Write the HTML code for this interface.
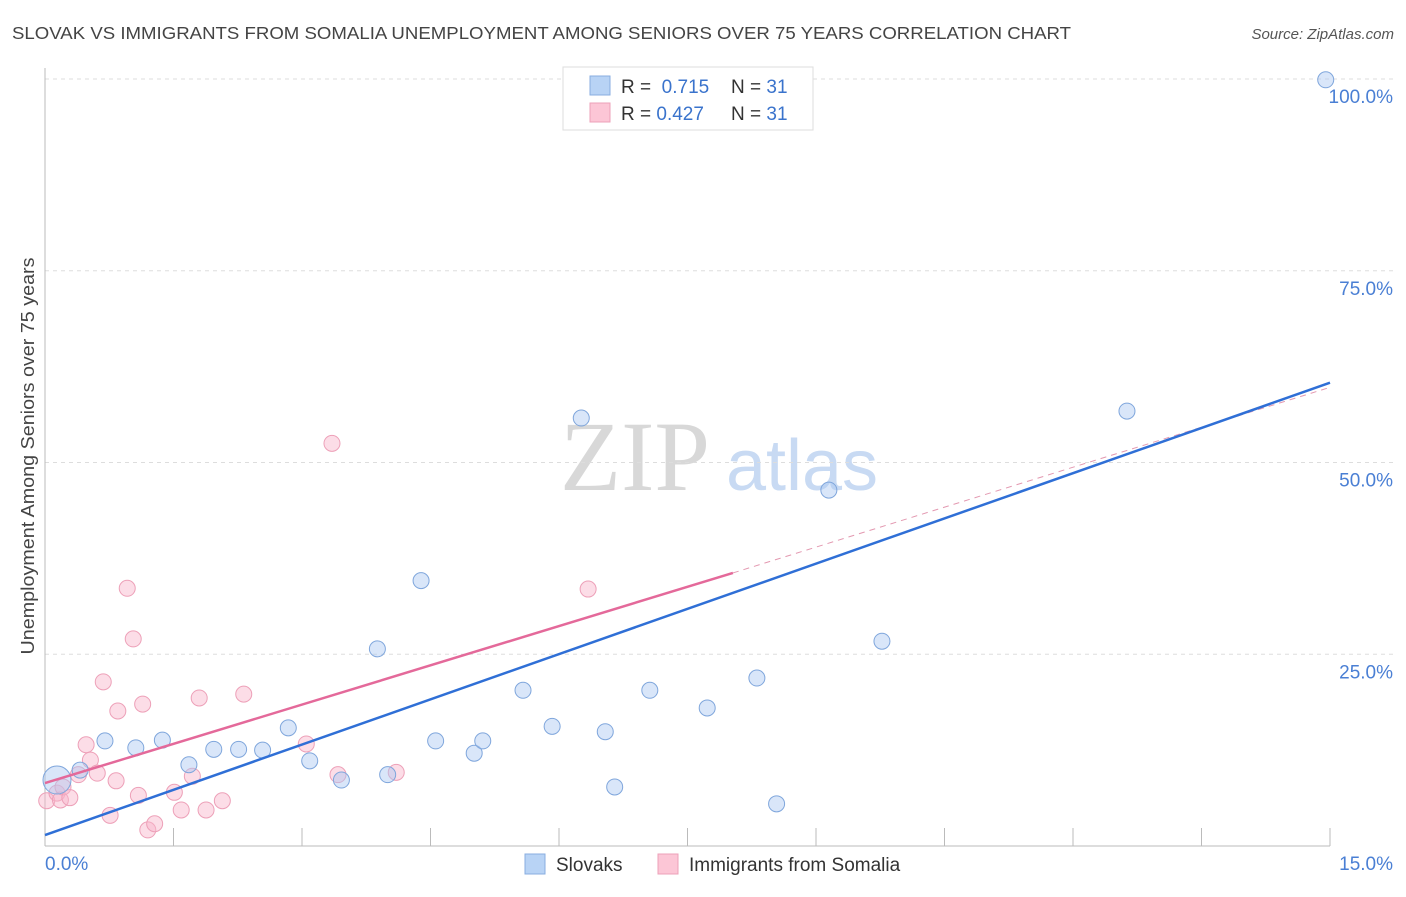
<!DOCTYPE html>
<html><head><meta charset="utf-8"><style>
body{margin:0;background:#fff;font-family:"Liberation Sans",sans-serif;}
svg text{font-family:"Liberation Sans",sans-serif;}
</style></head><body>
<svg id="chart" width="1406" height="892" xmlns="http://www.w3.org/2000/svg">
<text x="12" y="39" font-size="17.5" fill="#444" textLength="1059" lengthAdjust="spacingAndGlyphs">SLOVAK VS IMMIGRANTS FROM SOMALIA UNEMPLOYMENT AMONG SENIORS OVER 75 YEARS CORRELATION CHART</text>
<text x="1394" y="39" font-size="15" fill="#555" font-style="italic" text-anchor="end">Source: ZipAtlas.com</text>
<g>
<text x="635" y="490" font-size="100" fill="#d8d8d8" text-anchor="middle" style="font-family:'Liberation Serif',serif">ZIP</text>
<text x="802" y="490" font-size="72" fill="#c8daf3" text-anchor="middle">atlas</text>
</g>
<g id="grid"></g>
<g id="axes"></g>
<g id="marks"></g>
<text transform="translate(34,456) rotate(-90)" font-size="18" fill="#444" text-anchor="middle" textLength="397" lengthAdjust="spacingAndGlyphs">Unemployment Among Seniors over 75 years</text>
<g>
<rect x="563" y="67" width="250" height="63" fill="#fff" stroke="#ddd"/>
<rect x="590" y="76" width="20" height="19" fill="#b8d3f5" stroke="#88aee0"/>
<rect x="590" y="103" width="20" height="19" fill="#fcc6d6" stroke="#eda0b8"/>
<text x="621" y="93" font-size="19" fill="#333">R = <tspan fill="#3a73cc">&#160;0.715</tspan></text>
<text x="731" y="93" font-size="19" fill="#333">N = <tspan fill="#3a73cc">31</tspan></text>
<text x="621" y="120" font-size="19" fill="#333">R = <tspan fill="#3a73cc">0.427</tspan></text>
<text x="731" y="120" font-size="19" fill="#333">N = <tspan fill="#3a73cc">31</tspan></text>
</g>
<g>
<rect x="525" y="854" width="20" height="20" fill="#b8d3f5" stroke="#88aee0"/>
<text x="556" y="871" font-size="19" fill="#333">Slovaks</text>
<rect x="658" y="854" width="20" height="20" fill="#fcc6d6" stroke="#eda0b8"/>
<text x="689" y="871" font-size="19" fill="#333">Immigrants from Somalia</text>
</g>
</svg>
<script>
const blueX=[0.14,0.41,0.70,1.06,1.37,1.68,1.97,2.26,2.54,2.84,3.09,3.46,3.88,4.00,4.39,4.56,5.01,5.11,5.58,5.92,6.26,6.54,6.65,7.06,7.73,8.31,8.54,9.15,9.77,12.63,14.95];
const blueY=[8.6,9.9,13.7,12.8,13.8,10.6,12.6,12.6,12.5,15.4,11.1,8.6,25.7,9.3,34.6,13.7,12.1,13.7,20.3,15.6,55.8,14.9,7.7,20.3,18.0,21.9,5.5,46.4,26.7,56.7,99.9];
const pinkX=[0.02,0.14,0.18,0.21,0.29,0.39,0.48,0.53,0.61,0.68,0.76,0.83,0.85,0.96,1.03,1.09,1.14,1.20,1.28,1.51,1.59,1.72,1.80,1.88,2.07,2.32,3.05,3.35,3.42,4.10,6.34];
const pinkY=[5.9,6.9,6.0,7.7,6.3,9.3,13.2,11.2,9.5,21.4,4.0,8.5,17.6,33.6,27.0,6.6,18.5,2.1,2.9,7.0,4.7,9.1,19.3,4.7,5.9,19.8,13.3,52.5,9.3,9.6,33.5];
const blueLine=[0,1.43,15,60.4];
const pinkLine=[0,8.2,8.03,35.6,15,59.8];
const yTicks=[25,50,75,100];
const yTickLabels=["25.0%","50.0%","75.0%","100.0%"];
const xTicks=[0,1.5,3,4.5,6,7.5,9,10.5,12,13.5,15];
const NS="http://www.w3.org/2000/svg";
const X=v=>45+v/15*1285, Y=v=>846-v/100*767;
function mk(tag,attrs,parent){const e=document.createElementNS(NS,tag);for(const k in attrs)e.setAttribute(k,attrs[k]);document.getElementById(parent).appendChild(e);return e;}
yTicks.forEach((t,i)=>{
 const g=mk('line',{x1:45,x2:1394,y1:Y(t),y2:Y(t),stroke:'#ddd','stroke-dasharray':'4,4'},'grid');
 
 
 const l=mk('text',{x:1393,y:Y(t)+24,'font-size':19,fill:'#4a7fd4','text-anchor':'end'},'axes');
 l.textContent=yTickLabels[i];
 
 
});
const ax=mk('line',{x1:45,x2:45,y1:68,y2:846,stroke:'#bbb'},'axes');


const bx=mk('line',{x1:45,x2:1330,y1:846,y2:846,stroke:'#bbb'},'axes');


xTicks.forEach(t=>{
 const l=mk('line',{x1:X(t),x2:X(t),y1:828,y2:846,stroke:'#bbb'},'axes');
 
 
});
const x0=mk('text',{x:45,y:870,'font-size':19,fill:'#4a7fd4'},'axes');x0.textContent='0.0%';


const x1=mk('text',{x:1393,y:870,'font-size':19,fill:'#4a7fd4','text-anchor':'end'},'axes');x1.textContent='15.0%';


pinkX.forEach((v,i)=>{
 const c=mk('circle',{cx:X(v),cy:Y(pinkY[i]),r:8,fill:'rgba(249,180,202,0.45)',stroke:'#eda0b8','stroke-width':1},'marks');
 
 
});
blueX.forEach((v,i)=>{
 const c=mk('circle',{cx:X(v),cy:Y(blueY[i]),r:i==0?14:8,fill:'rgba(170,200,242,0.45)',stroke:'#7fa6dc','stroke-width':1},'marks');
 
 
});
const pd=mk('line',{x1:X(pinkLine[2]),y1:Y(pinkLine[3]),x2:X(pinkLine[4]),y2:Y(pinkLine[5]),stroke:'#e398b0','stroke-width':1,'stroke-dasharray':'6,5'},'marks');


const ps=mk('line',{x1:X(pinkLine[0]),y1:Y(pinkLine[1]),x2:X(pinkLine[2]),y2:Y(pinkLine[3]),stroke:'#e4699a','stroke-width':2.5},'marks');


const bl=mk('line',{x1:X(blueLine[0]),y1:Y(blueLine[1]),x2:X(blueLine[2]),y2:Y(blueLine[3]),stroke:'#2f6fd6','stroke-width':2.5},'marks');


</script>
</body></html>
